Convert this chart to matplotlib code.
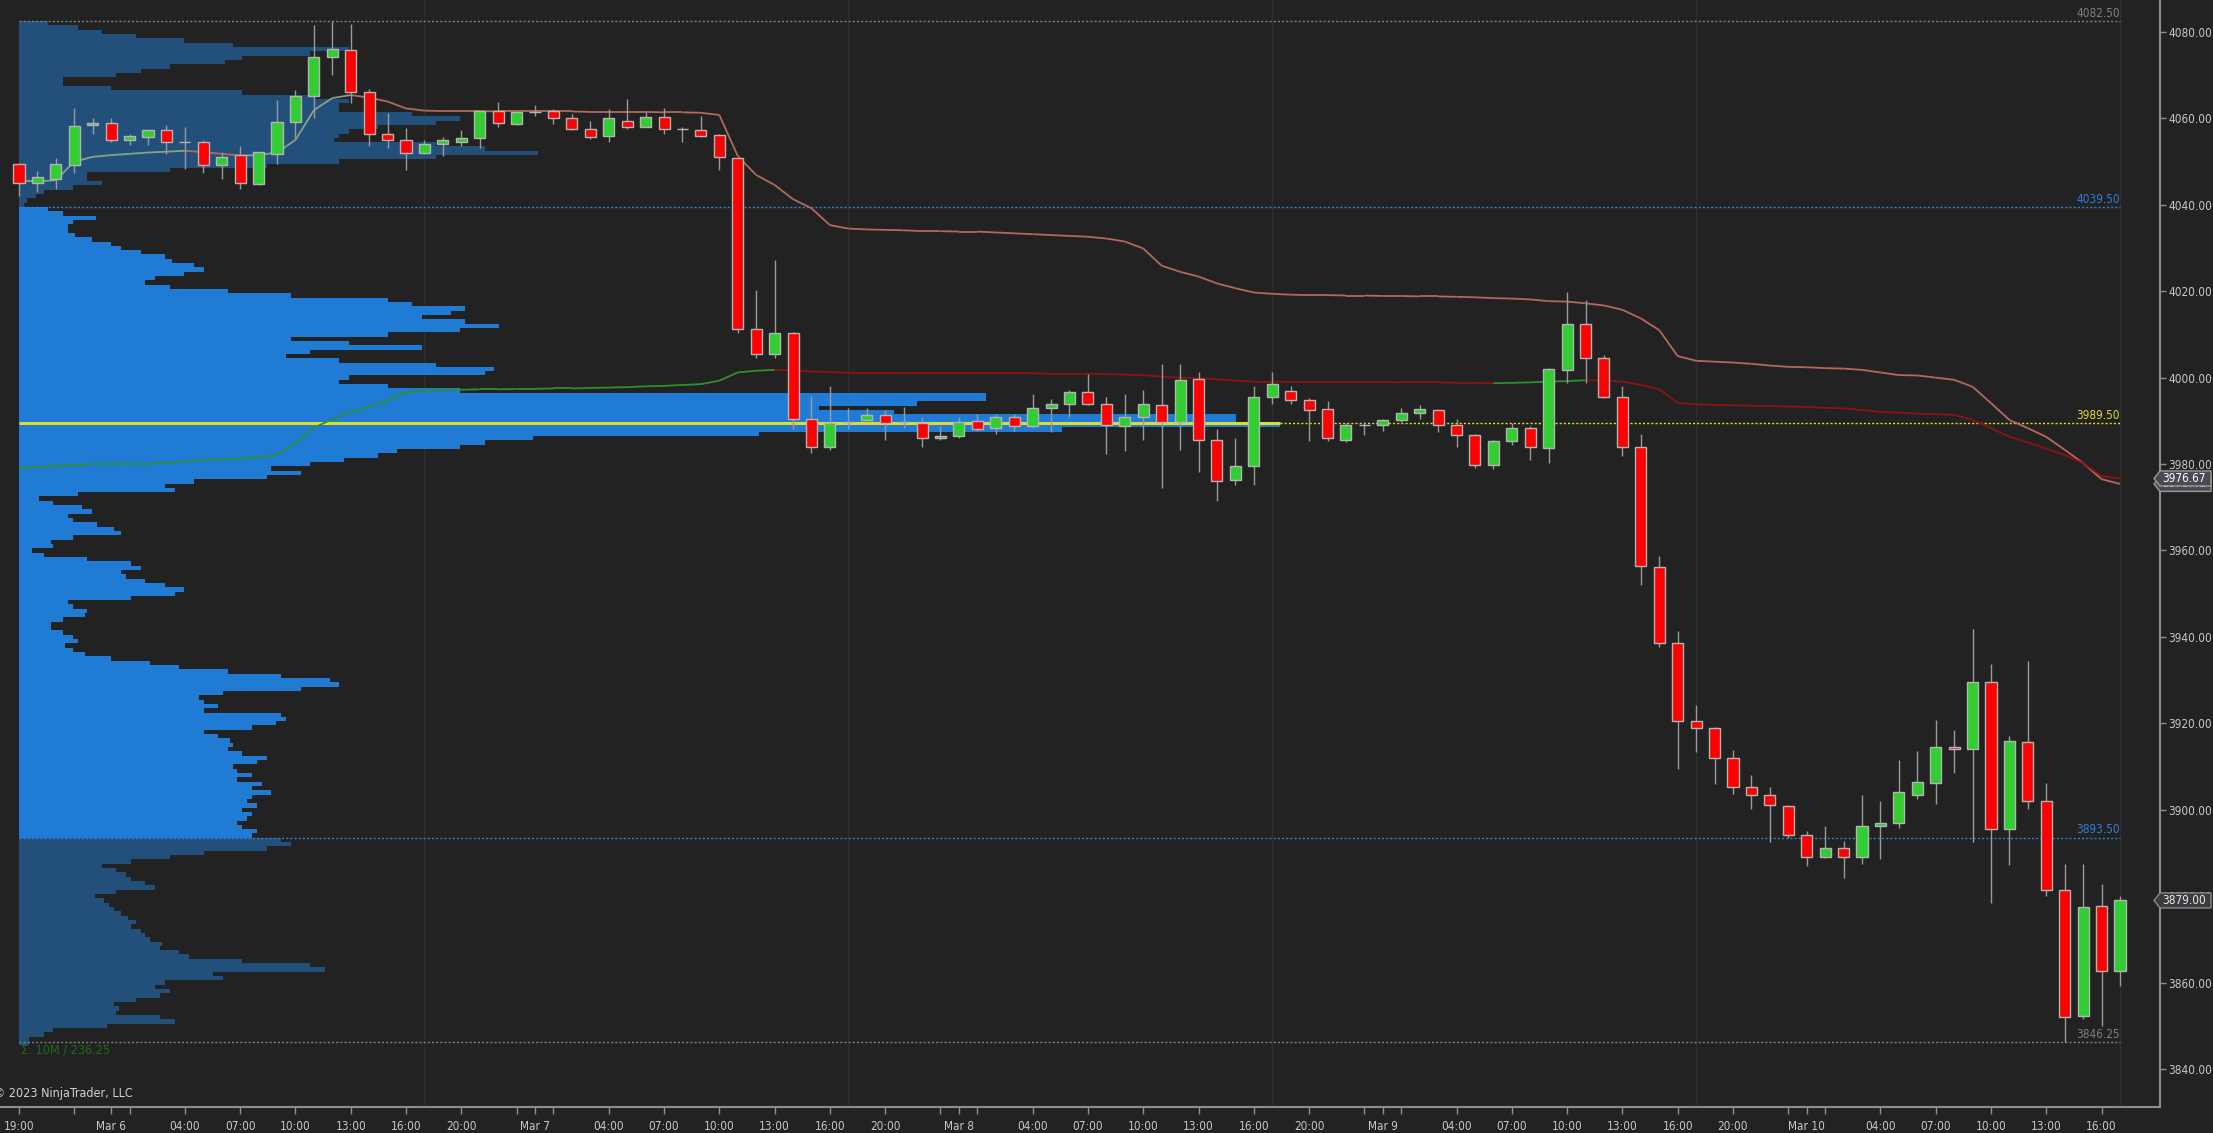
import numpy as np
import pandas as pd
import matplotlib
matplotlib.use("Agg")
from matplotlib import pyplot as plt
from matplotlib import font_manager
from matplotlib.collections import LineCollection
from matplotlib.patches import Polygon
from matplotlib.ticker import FormatStrFormatter
from matplotlib.transforms import IdentityTransform

# hourly bars, Mar 5 19:00 -> Mar 10 17:00 (no 18:00 bar, daily halt)
bar_times = pd.date_range("2023-03-05 19:00", "2023-03-10 17:00", freq="h")
bar_times = bar_times[bar_times.hour != 18]

bar_open = [4049.5, 4045.0, 4046.0, 4049.25, 4058.5, 4059.0, 4055.0, 4055.75, 4057.25, 4054.5,
            4054.5, 4049.25, 4051.5, 4044.75, 4051.75, 4059.25, 4065.25, 4074.25, 4075.75, 4066.0,
            4056.5, 4055.0, 4052.0, 4054.0, 4054.5, 4055.5, 4061.75, 4058.75, 4061.5, 4061.75,
            4060.0, 4057.5, 4056.0, 4059.5, 4058.0, 4060.25, 4057.5, 4057.25, 4056.25, 4050.75,
            4011.25, 4005.5, 4010.25, 3990.5, 3984.0, 3989.75, 3990.25, 3991.25, 3989.75, 3989.5,
            3986.0, 3986.5, 3990.0, 3988.25, 3991.0, 3988.75, 3993.0, 3994.0, 3996.75, 3994.0,
            3988.75, 3991.0, 3993.75, 3989.75, 3999.75, 3985.5, 3976.25, 3979.5, 3995.5, 3997.0,
            3994.75, 3992.75, 3985.5, 3989.0, 3989.0, 3990.25, 3991.75, 3992.5, 3989.0, 3986.75,
            3979.75, 3985.25, 3988.25, 3983.75, 4001.75, 4012.5, 4004.5, 3995.5, 3984.0, 3956.25,
            3938.5, 3920.5, 3919.0, 3912.0, 3905.25, 3903.5, 3900.75, 3894.25, 3889.0, 3891.25,
            3889.0, 3896.25, 3897.0, 3903.5, 3906.25, 3914.5, 3914.0, 3929.5, 3895.5, 3915.75,
            3902.0, 3881.5, 3852.25, 3877.75, 3862.75]
bar_high = [4049.75, 4047.75, 4050.75, 4062.5, 4060.0, 4060.0, 4056.5, 4057.25, 4058.5, 4058.0,
            4055.0, 4052.25, 4053.5, 4052.25, 4064.25, 4066.5, 4081.5, 4082.5, 4081.75, 4066.75,
            4061.25, 4057.75, 4055.0, 4055.75, 4057.25, 4061.75, 4063.75, 4061.5, 4063.0, 4062.25,
            4061.0, 4059.5, 4062.25, 4064.5, 4061.5, 4062.5, 4058.0, 4060.5, 4056.5, 4050.75,
            4020.25, 4027.25, 4010.5, 3995.75, 3998.0, 3993.0, 3993.0, 3992.5, 3993.25, 3991.0,
            3988.75, 3991.0, 3991.5, 3991.5, 3991.5, 3996.25, 3995.0, 3997.25, 4000.75, 3995.5,
            3996.25, 3997.25, 4003.25, 4003.25, 4001.25, 3988.0, 3986.0, 3998.0, 4001.25, 3998.0,
            3995.25, 3994.5, 3989.5, 3989.75, 3990.5, 3993.0, 3993.75, 3992.75, 3990.5, 3987.0,
            3985.5, 3989.5, 3988.75, 4002.25, 4019.75, 4018.0, 4005.25, 3998.0, 3987.0, 3958.75,
            3941.25, 3924.25, 3919.25, 3913.75, 3908.0, 3905.25, 3901.0, 3895.0, 3896.25, 3892.75,
            3903.5, 3902.0, 3911.5, 3913.5, 3920.75, 3918.5, 3941.75, 3933.75, 3917.0, 3934.5,
            3906.25, 3887.5, 3887.5, 3882.75, 3880.0]
bar_low = [4042.0, 4043.0, 4043.75, 4047.25, 4056.5, 4054.5, 4053.75, 4053.75, 4051.75, 4048.25,
           4047.25, 4046.0, 4043.75, 4044.5, 4049.5, 4055.25, 4060.0, 4070.0, 4063.5, 4053.5,
           4053.25, 4048.0, 4051.75, 4051.25, 4053.5, 4053.25, 4058.0, 4058.5, 4060.5, 4058.75,
           4057.25, 4055.25, 4054.5, 4057.5, 4058.0, 4056.5, 4054.5, 4055.75, 4048.0, 4010.25,
           4004.5, 4004.5, 3988.0, 3982.5, 3983.25, 3988.0, 3989.75, 3985.5, 3988.25, 3984.0,
           3985.5, 3986.0, 3987.75, 3987.0, 3987.75, 3988.25, 3987.5, 3991.0, 3993.75, 3982.25,
           3983.0, 3985.5, 3974.5, 3983.25, 3978.25, 3971.5, 3975.25, 3975.25, 3994.0, 3994.0,
           3985.25, 3985.25, 3985.0, 3986.75, 3987.75, 3989.75, 3990.5, 3987.5, 3984.0, 3979.0,
           3978.75, 3984.5, 3981.0, 3980.25, 3998.75, 3998.75, 3995.25, 3981.75, 3952.0, 3937.75,
           3909.5, 3913.25, 3906.0, 3903.75, 3900.25, 3892.5, 3893.5, 3887.0, 3888.75, 3884.25,
           3887.5, 3888.5, 3895.75, 3902.5, 3901.25, 3908.5, 3892.5, 3878.5, 3887.25, 3900.25,
           3880.0, 3846.25, 3851.5, 3850.0, 3859.25]
bar_close = [4045.0, 4046.5, 4049.5, 4058.25, 4059.0, 4055.0, 4056.0, 4057.25, 4054.5, 4054.5,
             4049.25, 4051.0, 4045.0, 4052.25, 4059.25, 4065.25, 4074.25, 4076.0, 4066.0, 4056.5,
             4055.0, 4052.0, 4054.0, 4055.0, 4055.5, 4061.75, 4059.0, 4061.5, 4061.5, 4060.0,
             4057.5, 4055.75, 4060.0, 4058.0, 4060.25, 4057.5, 4057.5, 4056.0, 4051.0, 4011.25,
             4005.5, 4010.25, 3990.5, 3984.0, 3989.5, 3989.75, 3991.25, 3989.5, 3989.75, 3986.0,
             3986.5, 3989.75, 3988.0, 3991.0, 3988.75, 3993.0, 3994.0, 3996.75, 3994.0, 3989.0,
             3991.0, 3994.0, 3989.75, 3999.5, 3985.5, 3976.0, 3979.5, 3995.5, 3998.5, 3994.75,
             3992.5, 3986.0, 3989.0, 3989.0, 3990.25, 3991.75, 3992.75, 3989.0, 3986.75, 3979.75,
             3985.25, 3988.25, 3984.0, 4002.0, 4012.5, 4004.5, 3995.5, 3984.0, 3956.5, 3938.5,
             3920.5, 3919.0, 3912.0, 3905.25, 3903.5, 3901.0, 3894.25, 3889.0, 3891.25, 3889.0,
             3896.25, 3897.0, 3904.0, 3906.5, 3914.5, 3914.0, 3929.5, 3895.5, 3916.0, 3902.0,
             3881.5, 3852.0, 3877.5, 3862.75, 3879.0]

# moving averages (fast = lighter line, slow = darker line)
ma_fast = [4045.4, 4045.4, 4045.7, 4050.0, 4051.1, 4051.5, 4051.8, 4052.1, 4052.3, 4052.5,
           4052.2, 4051.8, 4051.4, 4051.5, 4052.1, 4055.0, 4061.9, 4064.7, 4065.4, 4064.8,
           4063.9, 4062.3, 4061.8, 4061.7, 4061.7, 4061.7, 4061.6, 4061.6, 4061.6, 4061.6,
           4061.6, 4061.5, 4061.5, 4061.5, 4061.5, 4061.4, 4061.4, 4061.3, 4060.8, 4051.3,
           4046.9, 4044.6, 4041.3, 4039.2, 4035.3, 4034.5, 4034.3, 4034.2, 4034.1, 4033.9,
           4033.9, 4033.8, 4033.8, 4033.6, 4033.4, 4033.2, 4033.0, 4032.8, 4032.6, 4032.2,
           4031.5, 4029.9, 4025.9, 4024.5, 4023.4, 4021.8, 4020.7, 4019.7, 4019.4, 4019.2,
           4019.1, 4019.1, 4019.0, 4019.0, 4018.9, 4018.9, 4018.8, 4018.8, 4018.7, 4018.6,
           4018.4, 4018.3, 4018.1, 4017.7, 4017.6, 4017.2, 4016.7, 4015.7, 4013.7, 4011.0,
           4005.0, 4003.9, 4003.7, 4003.5, 4003.2, 4002.8, 4002.5, 4002.4, 4002.2, 4002.1,
           4001.8, 4001.2, 4000.6, 4000.5, 4000.0, 3999.5, 3997.9, 3994.1, 3990.2, 3988.3,
           3986.3, 3983.3, 3980.2, 3976.5, 3975.41]
ma_slow = [3979.2, 3979.3, 3979.5, 3979.8, 3980.0, 3980.0, 3980.1, 3980.1, 3980.2, 3980.6,
           3981.0, 3981.1, 3981.2, 3981.6, 3982.1, 3984.8, 3988.4, 3990.4, 3992.0, 3993.3,
           3994.7, 3996.6, 3997.0, 3997.1, 3997.2, 3997.3, 3997.3, 3997.4, 3997.4, 3997.5,
           3997.5, 3997.6, 3997.7, 3997.8, 3998.0, 3998.1, 3998.3, 3998.5, 3999.3, 4001.2,
           4001.6, 4001.8, 4001.7, 4001.4, 4001.3, 4001.1, 4001.1, 4001.1, 4001.0, 4001.0,
           4001.0, 4001.0, 4001.0, 4001.0, 4001.0, 4001.0, 4000.9, 4000.9, 4000.9, 4000.8,
           4000.7, 4000.6, 4000.2, 4000.0, 3999.9, 3999.6, 3999.3, 3999.1, 3999.1, 3999.0,
           3999.0, 3999.0, 3999.0, 3999.0, 3999.0, 3998.9, 3998.9, 3998.9, 3998.8, 3998.8,
           3998.7, 3998.8, 3998.9, 3999.1, 3999.2, 3999.4, 3999.3, 3999.1, 3998.3, 3997.3,
           3994.2, 3993.8, 3993.7, 3993.6, 3993.5, 3993.4, 3993.3, 3993.2, 3993.0, 3992.9,
           3992.5, 3992.1, 3991.9, 3991.7, 3991.5, 3991.4, 3990.2, 3988.3, 3986.3, 3985.0,
           3983.6, 3982.1, 3980.2, 3977.2, 3976.67]

# volume profile, one value per point from 4082 down to 3846
profile_top = 4082
profile_vol = [29, 59, 83, 117, 165, 214, 330, 291, 223, 206,
               151, 122, 97, 44, 44, 92, 223, 296, 330, 320,
               320, 393, 441, 417, 359, 330, 320, 315, 417, 466,
               519, 417, 320, 248, 151, 68, 68, 83, 54, 25,
               17, 8, 5, 29, 44, 77, 54, 49, 49, 56,
               73, 92, 102, 122, 146, 153, 175, 185, 165, 136,
               126, 151, 209, 272, 369, 393, 446, 432, 403, 446,
               480, 441, 369, 272, 330, 403, 291, 267, 320, 417,
               475, 466, 330, 320, 369, 441, 967, 967, 898, 800,
               875, 1217, 1217, 1261, 1043, 740, 514, 466, 441, 378,
               359, 325, 291, 252, 282, 248, 175, 146, 156, 59,
               20, 34, 63, 73, 49, 54, 78, 95, 102, 54,
               32, 34, 13, 25, 68, 112, 122, 102, 107, 126,
               146, 165, 156, 112, 49, 54, 68, 66, 44, 32,
               32, 44, 54, 59, 46, 54, 66, 92, 131, 160,
               209, 262, 311, 320, 282, 204, 180, 185, 199, 185,
               262, 267, 257, 233, 185, 199, 211, 214, 209, 223,
               248, 238, 214, 218, 233, 218, 243, 233, 252, 233,
               228, 238, 223, 233, 228, 218, 223, 238, 233, 262,
               272, 248, 185, 151, 112, 83, 97, 107, 112, 126,
               136, 97, 76, 85, 90, 95, 102, 109, 117, 112,
               122, 126, 131, 143, 141, 160, 170, 223, 291, 306,
               194, 204, 146, 136, 151, 141, 117, 95, 100, 97,
               141, 156, 88, 34, 25, 10, 10]
profile_high = 4082.50
profile_vah = 4039.50
profile_poc = 3989.50
profile_val = 3893.50
profile_low = 3846.25

y_ticks = [3840, 3860, 3880, 3900, 3920, 3940, 3960, 3980, 4000, 4020, 4040, 4060, 4080]

BG = "#222222"
AXIS = "#8e8e8e"
TXT = "#c8c8c8"
VA_BLUE = "#207bd4"
OUT_BLUE = "#22507b"
LVL_GRAY = "#808080"
LVL_BLUE = "#2f80d8"
LVL_YELLOW = "#dede2a"

names = {f.name for f in font_manager.fontManager.ttflist}
if "Liberation Sans Narrow" in names:
    plt.rcParams["font.family"] = ["Liberation Sans Narrow", "DejaVu Sans"]
    FS = 10
else:
    plt.rcParams["font.family"] = ["DejaVu Sans"]
    plt.rcParams["font.stretch"] = "condensed"
    FS = 8.5


def slope_line(ax, vals, up_col, dn_col, lw):
    x = np.arange(len(vals))
    y = np.asarray(vals, dtype=float)
    segs = np.stack([np.column_stack([x[:-1], y[:-1]]), np.column_stack([x[1:], y[1:]])], axis=1)
    cols = []
    last = up_col
    for a, b in zip(y[:-1], y[1:]):
        if b > a:
            last = up_col
        elif b < a:
            last = dn_col
        cols.append(last)
    ax.add_collection(LineCollection(segs, colors=cols, linewidths=lw, zorder=3))


def profile_patch(ax, prices, widths, color):
    # one stepped polygon per region, so rows join without seams
    verts = [(0, prices[0] + 0.5)]
    for p, w in zip(prices, widths):
        verts += [(w, p + 0.5), (w, p - 0.5)]
    verts.append((0, prices[-1] - 0.5))
    ax.add_patch(Polygon(verts, closed=True, facecolor=color, edgecolor="none", zorder=1))


def price_marker(fig, ax, price, text, face, edge, txtcol, z):
    x0 = ax.transAxes.transform((1, 0))[0]
    yc = ax.transData.transform((0, price))[1]
    hh = 7.5
    pts = [(x0 - 6, yc), (x0, yc + hh), (x0 + 51, yc + hh), (x0 + 51, yc - hh), (x0, yc - hh)]
    fig.add_artist(Polygon(pts, closed=True, facecolor=face, edgecolor=edge, lw=1,
                           transform=IdentityTransform(), zorder=z))
    fig.text(x0 + 24, yc, text, color=txtcol, fontsize=FS, ha="center", va="center",
             transform=IdentityTransform(), zorder=z + 1)


fig = plt.figure(figsize=(22.13, 11.33), dpi=100, facecolor=BG)
ax = fig.add_axes([0, 26 / 1133, 2160 / 2213, 1107 / 1133], facecolor=BG)
n = len(bar_close)
x = np.arange(n)

# session separators
for i, t in enumerate(bar_times):
    if t.hour == 17:
        ax.axvline(i, color="#2e2e2e", lw=1, zorder=0.5)

# volume profile
prof_price = profile_top - np.arange(len(profile_vol))
vol = np.asarray(profile_vol, dtype=float)
reach = 68.4  # bars covered by the POC row
width = vol * (reach / vol.max())
upper = prof_price > profile_vah
inside = (prof_price > profile_val) & (prof_price < profile_vah)
lower = prof_price < profile_val
profile_patch(ax, prof_price[upper], width[upper], OUT_BLUE)
profile_patch(ax, prof_price[inside], width[inside], VA_BLUE)
profile_patch(ax, prof_price[lower], width[lower], OUT_BLUE)

# profile levels
for price, col in [(profile_high, LVL_GRAY), (profile_vah, LVL_BLUE),
                   (profile_val, LVL_BLUE), (profile_low, LVL_GRAY)]:
    ax.hlines(price, 0, n - 1, colors=col, linestyles=(0, (1.5, 1.5)), lw=1, zorder=2)
    ax.annotate(f"{price:.2f}", (n - 1, price), xytext=(0, 1), textcoords="offset points",
                ha="right", va="bottom", color=col, fontsize=FS, zorder=6)
ax.hlines(profile_poc, 0, reach, colors=LVL_YELLOW, lw=2.2, zorder=2)
ax.hlines(profile_poc, reach, n - 1, colors=LVL_YELLOW, linestyles=(0, (1.5, 1.5)), lw=1, zorder=2)
ax.annotate(f"{profile_poc:.2f}", (n - 1, profile_poc), xytext=(0, 1), textcoords="offset points",
            ha="right", va="bottom", color=LVL_YELLOW, fontsize=FS, zorder=6)

# moving averages
slope_line(ax, ma_fast, "#86a386", "#b3695d", 1.3)
slope_line(ax, ma_slow, "#2f8f2f", "#8e1212", 1.3)

# candles
o = np.asarray(bar_open)
h = np.asarray(bar_high)
l = np.asarray(bar_low)
c = np.asarray(bar_close)
body_cols = np.where(c > o, "#32cd32", np.where(c < o, "#ff0000", "#b4b4b4"))
ax.vlines(x, l, h, color="#9a9a9a", lw=1, zorder=4)
ax.bar(x, np.abs(c - o), bottom=np.minimum(o, c), width=0.6, color=body_cols,
       edgecolor="#b4b4b4", linewidth=1, zorder=5)

ax.text(0.1, 3844.4, "\u03a3: 10M / 236.25", color="#1d6a1d", fontsize=FS + 0.5, ha="left", va="center")

ax.set_xlim(-1.03, 116.17)
ax.set_ylim(3831.2, 4087.4)

# time axis ticks
tick_pos, tick_lab = [], []
for i, t in enumerate(bar_times):
    hr = t.hour
    if i < 5:
        if i == 0:
            tick_pos.append(i); tick_lab.append("19:00")
        elif hr == 22:
            tick_pos.append(i); tick_lab.append("")
        continue
    if hr == 0:
        tick_pos.append(i); tick_lab.append(f"Mar {t.day}")
    elif hr in (4, 7, 10, 13, 16, 20):
        tick_pos.append(i); tick_lab.append(t.strftime("%H:%M"))
    elif hr in (23, 1):
        tick_pos.append(i); tick_lab.append("")
ax.set_xticks(tick_pos)
ax.set_xticklabels(tick_lab)
ax.tick_params(axis="x", colors=AXIS, labelcolor=TXT, length=5, width=1, pad=4, labelsize=FS)

ax.yaxis.tick_right()
ax.set_yticks(y_ticks)
ax.yaxis.set_major_formatter(FormatStrFormatter("%.2f"))
ax.tick_params(axis="y", colors=AXIS, labelcolor=TXT, length=4, width=1, pad=2, labelsize=FS)

for side in ("top", "left"):
    ax.spines[side].set_visible(False)
for side in ("right", "bottom"):
    ax.spines[side].set_color(AXIS)
    ax.spines[side].set_linewidth(1.5)

fig.text(-6 / 2213, 1 - 1094 / 1133, "\u00a9 2023 NinjaTrader, LLC", color="#d2d2d2",
         fontsize=FS + 0.5, ha="left", va="center")

# last-value markers on the price axis; the top one is drawn last
price_marker(fig, ax, ma_fast[-1], f"{ma_fast[-1]:.2f}", "#4a4a52", "#9a9a9a", "#e8e8e8", 10)
price_marker(fig, ax, ma_slow[-1], f"{ma_slow[-1]:.2f}", "#4a4a52", "#9a9a9a", "#ffffff", 12)
price_marker(fig, ax, bar_close[-1], f"{bar_close[-1]:.2f}", "#3c3c40", "#8a8a8a", "#e8e8e8", 14)

fig.savefig("out.png", dpi=100, facecolor=BG)
